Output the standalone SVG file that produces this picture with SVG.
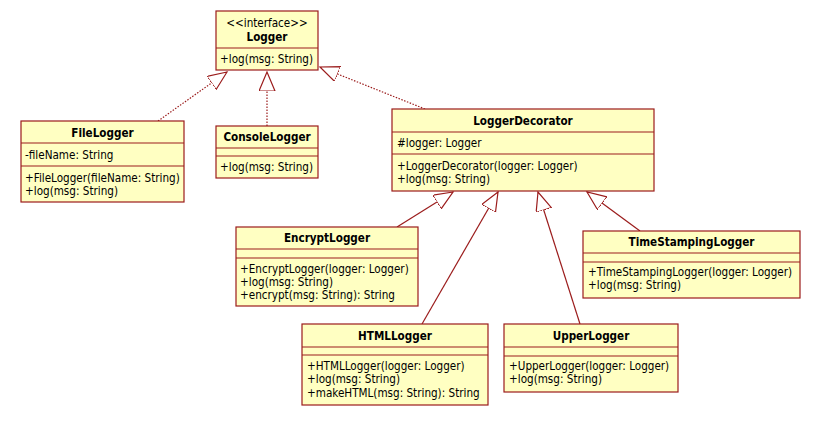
<svg xmlns="http://www.w3.org/2000/svg" width="814" height="422" viewBox="0 0 814 422">
<style>
.box{fill:#ffffc2;stroke:#9b1c1c;stroke-width:1.2}
.div{stroke:#9b1c1c;stroke-width:1.2}
text{font-family:"DejaVu Sans Condensed","DejaVu Sans",sans-serif;font-size:11.6px;fill:#000}
.t{font-weight:bold;text-anchor:middle}
.c{text-anchor:middle}
.real{stroke:#9b1c1c;stroke-width:1.2;fill:none;stroke-dasharray:1.5 1.5;marker-end:url(#tri)}
.gen{stroke:#9b1c1c;stroke-width:1.2;fill:none;marker-end:url(#tri)}
</style>
<defs>
<marker id="tri" markerUnits="userSpaceOnUse" markerWidth="22" markerHeight="20" refX="19" refY="8" orient="auto">
<path d="M19,8 L0,0 L0,16 Z" fill="#fff" stroke="#9b1c1c" stroke-width="1.2"/>
</marker>
</defs>
<g id="connectors">
<line class="real" x1="158" y1="121" x2="227" y2="72"/>
<line class="real" x1="267" y1="126" x2="267" y2="72"/>
<line class="real" x1="425" y1="109" x2="320" y2="67"/>
<line class="gen" x1="397" y1="227" x2="453" y2="192"/>
<line class="gen" x1="422" y1="324" x2="498" y2="192"/>
<line class="gen" x1="580" y1="324" x2="538" y2="192"/>
<line class="gen" x1="640" y1="231" x2="587" y2="192"/>
</g>
<g id="Logger">
<rect class="box" x="216" y="11" width="102" height="59"/>
<line class="div" x1="216" y1="48" x2="318" y2="48"/>
<text class="c" x="267" y="27">&lt;&lt;interface&gt;&gt;</text>
<text class="t" x="267" y="41">Logger</text>
<text x="220" y="63">+log(msg: String)</text>
</g>
<g id="FileLogger">
<rect class="box" x="21" y="121" width="163" height="81"/>
<line class="div" x1="21" y1="143" x2="184" y2="143"/>
<line class="div" x1="21" y1="166" x2="184" y2="166"/>
<text class="t" x="102.5" y="137">FileLogger</text>
<text x="25" y="159">-fileName: String</text>
<text x="25" y="182">+FileLogger(fileName: String)</text>
<text x="25" y="195">+log(msg: String)</text>
</g>
<g id="ConsoleLogger">
<rect class="box" x="216" y="126" width="102" height="52"/>
<line class="div" x1="216" y1="148" x2="318" y2="148"/>
<line class="div" x1="216" y1="156" x2="318" y2="156"/>
<text class="t" x="267" y="141">ConsoleLogger</text>
<text x="220" y="171">+log(msg: String)</text>
</g>
<g id="LoggerDecorator">
<rect class="box" x="392" y="109" width="262" height="82"/>
<line class="div" x1="392" y1="132" x2="654" y2="132"/>
<line class="div" x1="392" y1="154" x2="654" y2="154"/>
<text class="t" x="523" y="125">LoggerDecorator</text>
<text x="397" y="147">#logger: Logger</text>
<text x="397" y="170">+LoggerDecorator(logger: Logger)</text>
<text x="397" y="183">+log(msg: String)</text>
</g>
<g id="EncryptLogger">
<rect class="box" x="236" y="227" width="182" height="79"/>
<line class="div" x1="236" y1="249" x2="418" y2="249"/>
<line class="div" x1="236" y1="258" x2="418" y2="258"/>
<text class="t" x="327" y="242">EncryptLogger</text>
<text x="240" y="273">+EncryptLogger(logger: Logger)</text>
<text x="240" y="286">+log(msg: String)</text>
<text x="240" y="299">+encrypt(msg: String): String</text>
</g>
<g id="TimeStampingLogger">
<rect class="box" x="583" y="231" width="217" height="67"/>
<line class="div" x1="583" y1="253" x2="800" y2="253"/>
<line class="div" x1="583" y1="262" x2="800" y2="262"/>
<text class="t" x="691.5" y="246">TimeStampingLogger</text>
<text x="588" y="276">+TimeStampingLogger(logger: Logger)</text>
<text x="588" y="289">+log(msg: String)</text>
</g>
<g id="HTMLLogger">
<rect class="box" x="302" y="324" width="186" height="81"/>
<line class="div" x1="302" y1="347" x2="488" y2="347"/>
<line class="div" x1="302" y1="355" x2="488" y2="355"/>
<text class="t" x="395" y="340">HTMLLogger</text>
<text x="307" y="370">+HTMLLogger(logger: Logger)</text>
<text x="307" y="383">+log(msg: String)</text>
<text x="307" y="397">+makeHTML(msg: String): String</text>
</g>
<g id="UpperLogger">
<rect class="box" x="504" y="324" width="174" height="68"/>
<line class="div" x1="504" y1="347" x2="678" y2="347"/>
<line class="div" x1="504" y1="356" x2="678" y2="356"/>
<text class="t" x="591" y="340">UpperLogger</text>
<text x="509" y="370">+UpperLogger(logger: Logger)</text>
<text x="509" y="383">+log(msg: String)</text>
</g>
</svg>
